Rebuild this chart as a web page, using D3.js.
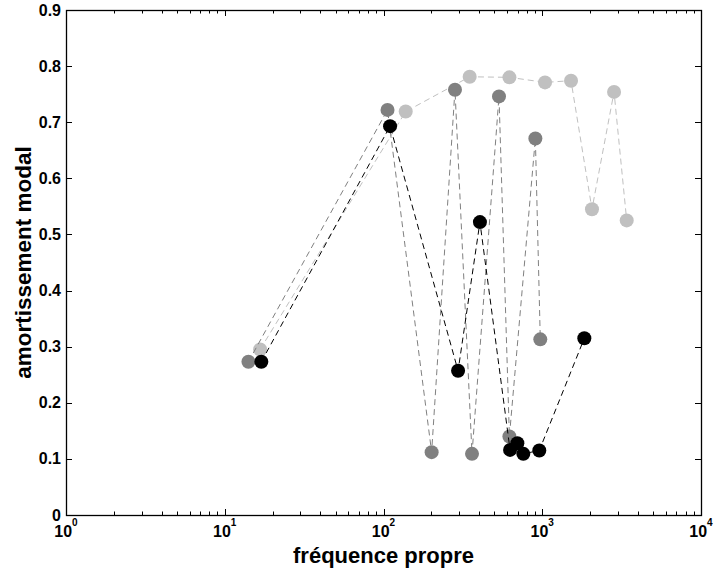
<!DOCTYPE html>
<html>
<head>
<meta charset="utf-8">
<script src="https://cdn.jsdelivr.net/npm/d3@7"></script>
<style>
  body { margin: 0; background: #fff; }
  text { font-family: "Liberation Sans", Arial, sans-serif; font-weight: bold; fill: #000; }
</style>
</head>
<body>
<div id="chart"></div>
<script>
// Data (frequency, damping) for each of the three series
let lightFreq = [16.7, 138, 349, 621, 1041, 1518, 2057, 2833, 3404];
let lightDamp = [0.295, 0.719, 0.781, 0.780, 0.771, 0.774, 0.545, 0.754, 0.525];

let midFreq = [14.1, 106, 201, 282, 361, 534, 621, 905, 972];
let midDamp = [0.273, 0.722, 0.112, 0.758, 0.109, 0.746, 0.140, 0.671, 0.313];

let blackFreq = [17.0, 110, 295, 405, 627, 697, 760, 958, 1841];
let blackDamp = [0.273, 0.693, 0.257, 0.522, 0.116, 0.128, 0.109, 0.115, 0.315];

let xTickExp = [0, 1, 2, 3, 4];
let yTicks = [0, 0.1, 0.2, 0.3, 0.4, 0.5, 0.6, 0.7, 0.8, 0.9];

let series = [
  { freq: lightFreq, damp: lightDamp, color: '#c0c0c0' },
  { freq: midFreq, damp: midDamp, color: '#808080' },
  { freq: blackFreq, damp: blackDamp, color: '#000000' }
];

// Dimensions
let margin = { left: 66, right: 13, top: 10, bottom: 57 };
let width = 714 - margin.left - margin.right;
let height = 572 - margin.top - margin.bottom;

// Scales
let x = d3.scaleLog().domain([1, 1e4]).range([0, width]);
let y = d3.scaleLinear().domain([0, 0.9]).range([height, 0]);

let svg = d3.select('#chart')
  .append('svg')
  .attr('width', 714)
  .attr('height', 572)
  .append('g')
  .attr('transform', `translate(${margin.left},${margin.top})`);

// Minor/major tick positions on the log axis
let minor = [];
for (let e = 0; e < 4; e++) {
  for (let m = 2; m <= 9; m++) minor.push(m * Math.pow(10, e));
}
let major = xTickExp.map(e => Math.pow(10, e));

// Axes (ticks pointing inward, MATLAB style)
let ticks = svg.append('g').attr('stroke', '#000').attr('stroke-width', 1);
major.forEach(v => {
  let px = Math.round(x(v)) + 0.5;
  ticks.append('line').attr('x1', px).attr('x2', px).attr('y1', height).attr('y2', height - 6);
  ticks.append('line').attr('x1', px).attr('x2', px).attr('y1', 0).attr('y2', 6);
});
minor.forEach(v => {
  let px = Math.round(x(v)) + 0.5;
  ticks.append('line').attr('x1', px).attr('x2', px).attr('y1', height).attr('y2', height - 3.5);
  ticks.append('line').attr('x1', px).attr('x2', px).attr('y1', 0).attr('y2', 3.5);
});
yTicks.forEach(v => {
  let py = Math.round(y(v)) + 0.5;
  ticks.append('line').attr('x1', 0).attr('x2', 6).attr('y1', py).attr('y2', py);
  ticks.append('line').attr('x1', width).attr('x2', width - 6).attr('y1', py).attr('y2', py);
});

// Frame
svg.append('rect')
  .attr('x', 0.5).attr('y', 0.5)
  .attr('width', width).attr('height', height)
  .attr('fill', 'none')
  .attr('stroke', '#000')
  .attr('stroke-width', 1.3);

// Tick labels
svg.selectAll('.ylab')
  .data(yTicks)
  .enter()
  .append('text')
  .attr('class', 'ylab')
  .attr('x', -5)
  .attr('y', d => y(d) + 5.5)
  .attr('text-anchor', 'end')
  .attr('font-size', 16)
  .text(d => d === 0 ? '0' : d3.format('.1f')(d));

let xl = svg.selectAll('.xlab')
  .data(xTickExp)
  .enter()
  .append('text')
  .attr('class', 'xlab')
  .attr('x', d => x(Math.pow(10, d)))
  .attr('y', height + 22)
  .attr('text-anchor', 'middle')
  .attr('font-size', 16);
xl.append('tspan').text('10');
xl.append('tspan').attr('dy', -11).attr('font-size', 10).text(d => d);

// Series: dashed lines then markers
series.forEach(s => {
  let pts = s.freq.map((f, i) => [f, s.damp[i]]);
  let line = d3.line().x(d => x(d[0])).y(d => y(d[1]));
  svg.append('path')
    .datum(pts)
    .attr('d', line)
    .attr('fill', 'none')
    .attr('stroke', s.color)
    .attr('stroke-width', 1)
    .attr('stroke-dasharray', '6,4');
  svg.selectAll(null)
    .data(pts)
    .enter()
    .append('circle')
    .attr('cx', d => x(d[0]))
    .attr('cy', d => y(d[1]))
    .attr('r', 7)
    .attr('fill', s.color);
});

// Axis labels
svg.append('text')
  .attr('x', width / 2)
  .attr('y', height + 48)
  .attr('text-anchor', 'middle')
  .attr('font-size', 22)
  .text('fréquence propre');
svg.append('text')
  .attr('transform', `translate(${-35},${height / 2}) rotate(-90)`)
  .attr('text-anchor', 'middle')
  .attr('font-size', 22.5)
  .text('amortissement modal');
</script>
</body>
</html>
